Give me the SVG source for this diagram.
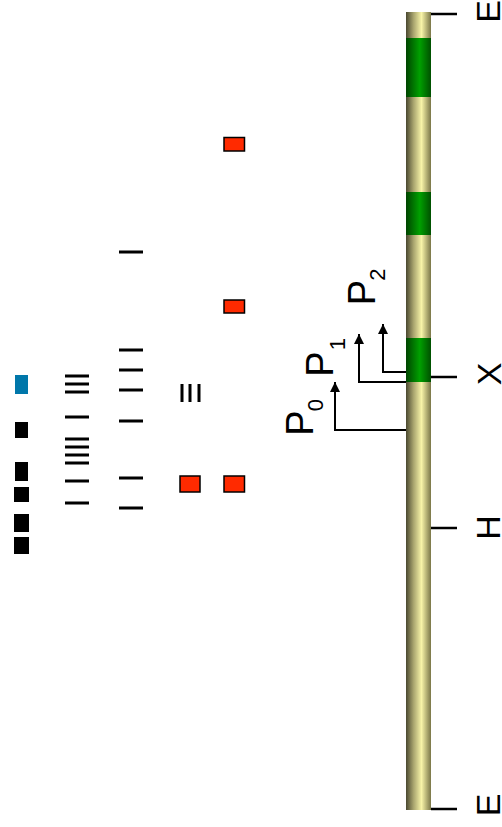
<svg xmlns="http://www.w3.org/2000/svg" width="502" height="827" viewBox="0 0 502 827">
<defs>
<linearGradient id="chr" x1="0" y1="0" x2="1" y2="0">
<stop offset="0" stop-color="#4a4830"/>
<stop offset="0.3" stop-color="#a8a46e"/>
<stop offset="0.62" stop-color="#f8f4a8"/>
<stop offset="1" stop-color="#7a7648"/>
</linearGradient>
<linearGradient id="grn" x1="0" y1="0" x2="1" y2="0">
<stop offset="0" stop-color="#004400"/>
<stop offset="0.55" stop-color="#00a000"/>
<stop offset="1" stop-color="#005000"/>
</linearGradient>
<marker id="ah" viewBox="0 0 10 10" refX="10" refY="5" markerWidth="10" markerHeight="10" markerUnits="userSpaceOnUse" orient="auto">
<path d="M0,0 L10,5 L0,10 z" fill="#000"/>
</marker>
<style>
.lbl{font-family:"Liberation Sans",Arial,sans-serif;font-size:34px;fill:#000}
.p{font-family:"Liberation Sans",Arial,sans-serif;font-size:38px;fill:#000}
.sub{font-family:"Liberation Sans",Arial,sans-serif;font-size:22px;fill:#000}
.tick{stroke:#000;stroke-width:2.5}
.hb{fill:#000}
.red{fill:#ff2a00;stroke:#000;stroke-width:1.5}
.blk{fill:#000}
.conn{fill:none;stroke:#000;stroke-width:2}
</style>
</defs>

<g id="chromosome">
<rect x="406" y="12" width="25" height="798" fill="url(#chr)"/>
<rect x="406" y="38" width="25" height="59" fill="url(#grn)"/>
<rect x="406" y="192" width="25" height="43" fill="url(#grn)"/>
<rect x="406" y="338" width="25" height="44" fill="url(#grn)"/>
</g>

<g id="tick-E-top"><line class="tick" x1="431" y1="14" x2="457" y2="14"/><text class="lbl" text-anchor="middle" transform="translate(500,11.5) rotate(-90)">E</text></g>
<g id="tick-X"><line class="tick" x1="431" y1="377" x2="457" y2="377"/><text class="lbl" text-anchor="middle" transform="translate(501,374) rotate(-90)">X</text></g>
<g id="tick-H"><line class="tick" x1="431" y1="528" x2="457" y2="528"/><text class="lbl" text-anchor="middle" transform="translate(500,527.5) rotate(-90)">H</text></g>
<g id="tick-E-bottom"><line class="tick" x1="431" y1="809" x2="457" y2="809"/><text class="lbl" text-anchor="middle" transform="translate(500,805) rotate(-90)">E</text></g>

<g id="P0"><text class="p" text-anchor="middle" transform="translate(313,423) rotate(-90)">P</text><text class="sub" text-anchor="middle" transform="translate(323,405) rotate(-90)">0</text></g>
<g id="P1"><text class="p" text-anchor="middle" transform="translate(333,364) rotate(-90)">P</text><text class="sub" text-anchor="middle" transform="translate(345,344) rotate(-90)">1</text></g>
<g id="P2"><text class="p" text-anchor="middle" transform="translate(375,292.5) rotate(-90)">P</text><text class="sub" text-anchor="middle" transform="translate(385,274.5) rotate(-90)">2</text></g>

<g id="connectors">
<path class="conn" d="M406,430 H335 V382" marker-end="url(#ah)"/>
<path class="conn" d="M406,382 H359 V334" marker-end="url(#ah)"/>
<path class="conn" d="M406,372 H383 V324" marker-end="url(#ah)"/>
</g>

<g id="track-squares">
<rect x="15" y="375" width="13" height="19" fill="#0077aa"/>
<rect class="blk" x="15" y="422" width="13" height="16"/>
<rect class="blk" x="15" y="462" width="13" height="19"/>
<rect class="blk" x="14" y="487" width="15" height="15"/>
<rect class="blk" x="14" y="514" width="15" height="18"/>
<rect class="blk" x="14" y="537" width="15" height="17"/>
</g>

<g id="track-lines-1">
<rect class="hb" x="65" y="374.5" width="24" height="3"/>
<rect class="hb" x="65" y="382.5" width="24" height="3"/>
<rect class="hb" x="65" y="390.5" width="24" height="3"/>
<rect class="hb" x="65" y="415.5" width="24" height="3"/>
<rect class="hb" x="65" y="437.5" width="24" height="3"/>
<rect class="hb" x="65" y="445.5" width="24" height="3"/>
<rect class="hb" x="65" y="453.5" width="24" height="3"/>
<rect class="hb" x="65" y="461.5" width="24" height="3"/>
<rect class="hb" x="65" y="479.5" width="24" height="3"/>
<rect class="hb" x="65" y="501.5" width="24" height="3"/>
</g>

<g id="track-lines-2">
<rect class="hb" x="119" y="250.5" width="24" height="3"/>
<rect class="hb" x="119" y="348.5" width="24" height="3"/>
<rect class="hb" x="119" y="368.5" width="24" height="3"/>
<rect class="hb" x="119" y="388.5" width="24" height="3"/>
<rect class="hb" x="119" y="419.5" width="24" height="3"/>
<rect class="hb" x="119" y="476.5" width="24" height="3"/>
<rect class="hb" x="119" y="506.5" width="24" height="3"/>
</g>

<g id="track-3">
<rect class="hb" x="180.5" y="384" width="3" height="18"/>
<rect class="hb" x="188.5" y="384" width="3" height="18"/>
<rect class="hb" x="197.5" y="384" width="3" height="18"/>
<rect class="red" x="180" y="476" width="20" height="16"/>
</g>

<g id="track-4">
<rect class="red" x="224" y="137.5" width="20.5" height="13.5"/>
<rect class="red" x="224" y="300" width="20.5" height="13"/>
<rect class="red" x="224" y="476" width="20.5" height="16"/>
</g>
</svg>
